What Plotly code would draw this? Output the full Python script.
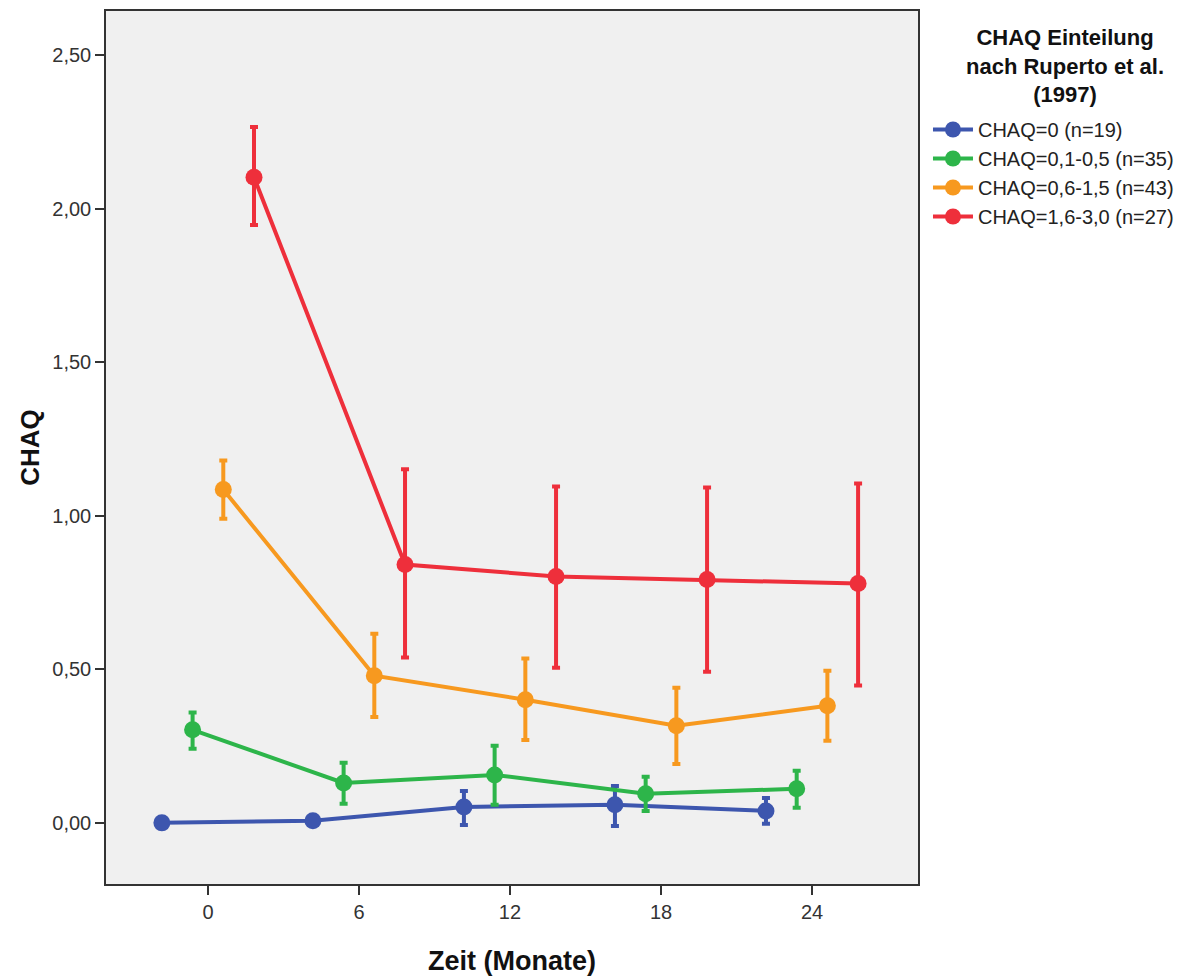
import plotly.graph_objects as go

# ---------------- data ----------------
times = [0, 6, 12, 18, 24]
tick_vals = [0, 6, 12, 18, 24]
tick_text = ["0", "6", "12", "18", "24"]
y_tick_vals = [0.0, 0.5, 1.0, 1.5, 2.0, 2.5]
y_tick_text = ["0,00", "0,50", "1,00", "1,50", "2,00", "2,50"]

group_names = [
    "CHAQ=0 (n=19)",
    "CHAQ=0,1-0,5 (n=35)",
    "CHAQ=0,6-1,5 (n=43)",
    "CHAQ=1,6-3,0 (n=27)",
]

mean_chaq0 = [0.000, 0.007, 0.052, 0.059, 0.039]
upper_chaq0 = [0.000, 0.007, 0.104, 0.120, 0.081]
lower_chaq0 = [0.000, 0.007, -0.007, -0.010, -0.003]

mean_chaq1 = [0.303, 0.130, 0.156, 0.095, 0.111]
upper_chaq1 = [0.359, 0.196, 0.251, 0.150, 0.170]
lower_chaq1 = [0.241, 0.062, 0.059, 0.039, 0.049]

mean_chaq2 = [1.085, 0.479, 0.401, 0.316, 0.381]
upper_chaq2 = [1.180, 0.616, 0.535, 0.440, 0.495]
lower_chaq2 = [0.990, 0.345, 0.270, 0.192, 0.267]

mean_chaq3 = [2.102, 0.841, 0.802, 0.792, 0.779]
upper_chaq3 = [2.265, 1.151, 1.095, 1.092, 1.105]
lower_chaq3 = [1.946, 0.538, 0.505, 0.492, 0.447]

means = [mean_chaq0, mean_chaq1, mean_chaq2, mean_chaq3]
uppers = [upper_chaq0, upper_chaq1, upper_chaq2, upper_chaq3]
lowers = [lower_chaq0, lower_chaq1, lower_chaq2, lower_chaq3]

# ---------------- style ----------------
colors = ["#3D56AE", "#2DB54A", "#F7991F", "#EE2F3B"]
DODGE_STEP = 1.22
FONT = "Liberation Sans, Arial, sans-serif"

fig = go.Figure()
n = len(group_names)
for i in range(n):
    offset = (i - (n - 1) / 2) * DODGE_STEP
    xs = [t + offset for t in times]
    m = means[i]
    plus = [u - v for u, v in zip(uppers[i], m)]
    minus = [v - l for v, l in zip(m, lowers[i])]
    fig.add_trace(go.Scatter(
        x=xs, y=m, mode="lines+markers", name=group_names[i],
        line=dict(color=colors[i], width=4),
        marker=dict(color=colors[i], size=17, symbol="circle"),
        error_y=dict(type="data", symmetric=False, array=plus, arrayminus=minus,
                     color=colors[i], thickness=4, width=4),
    ))

fig.update_layout(
    width=1198, height=978,
    margin=dict(l=106, r=280, t=11, b=94),
    paper_bgcolor="white",
    plot_bgcolor="#F0F0F0",
    font=dict(family=FONT, size=20, color="#222222"),
    showlegend=True,
    legend=dict(x=1.0123, y=0.8866, xanchor="left", yanchor="top",
                font=dict(family=FONT, size=20, color="#222222"),
                bgcolor="rgba(0,0,0,0)", tracegroupgap=0, itemwidth=40),
    annotations=[dict(
        text="<b>CHAQ Einteilung<br>nach Ruperto et al.<br>(1997)</b>",
        xref="paper", yref="paper", x=1.1810, y=0.9865,
        xanchor="center", yanchor="top", align="center", showarrow=False,
        font=dict(family=FONT, size=22, color="#111111"))],
)

fig.update_xaxes(
    range=[-4.05, 28.21], tickmode="array", tickvals=tick_vals, ticktext=tick_text,
    showgrid=False, zeroline=False, showline=True, linecolor="#333333", linewidth=1.5,
    mirror=True, ticks="outside", ticklen=9, tickwidth=1.5, tickcolor="#333333",
    tickfont=dict(family=FONT, size=20, color="#333333"), automargin=False,
    title=dict(text="<b>Zeit (Monate)</b>", standoff=29,
               font=dict(family=FONT, size=27, color="#111111")),
)
fig.update_yaxes(
    range=[-0.199, 2.643], tickmode="array", tickvals=y_tick_vals, ticktext=y_tick_text,
    showgrid=False, zeroline=False, showline=True, linecolor="#333333", linewidth=1.5,
    mirror=True, ticks="outside", ticklen=9, tickwidth=1.5, tickcolor="#333333",
    tickfont=dict(family=FONT, size=20, color="#333333"), automargin=False,
    title=dict(text="<b>CHAQ</b>", standoff=5,
               font=dict(family=FONT, size=26, color="#111111")),
)

fig.write_html("out.html")
